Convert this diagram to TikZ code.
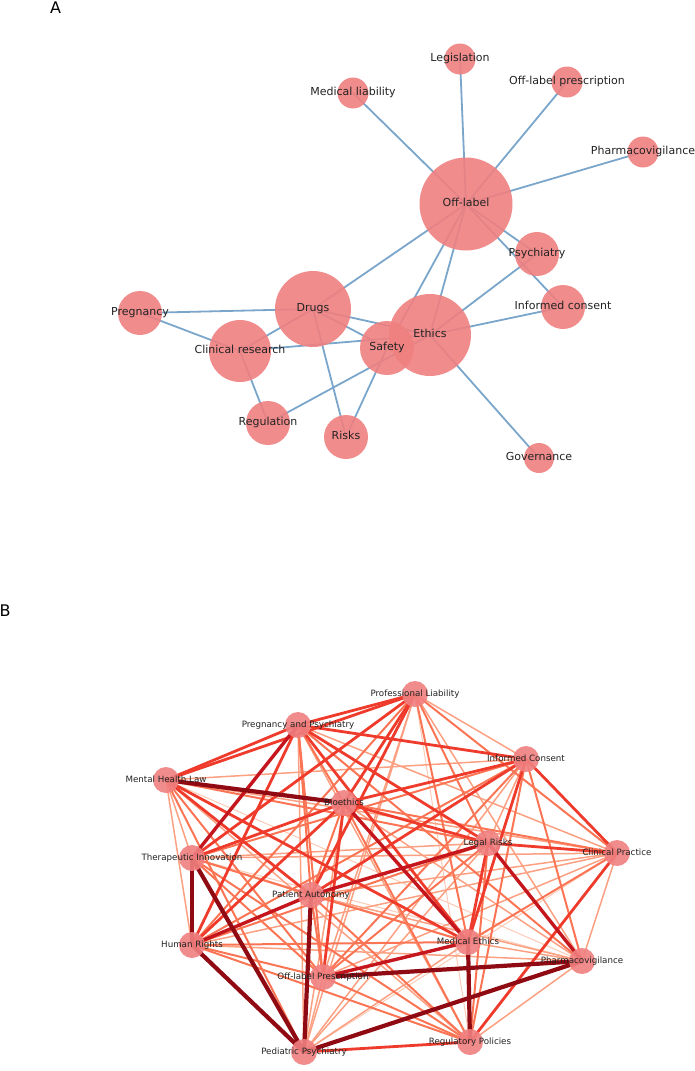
\documentclass[tikz,border=0pt]{standalone}
\usepackage{fontspec}
\setmainfont{DejaVu Sans}
\pgfdeclarelayer{bg}
\pgfsetlayers{bg,main}
\definecolor{nodecol}{HTML}{F08080}
\definecolor{edgeblue}{HTML}{7AA6CB}
\definecolor{txt}{HTML}{222222}
\definecolor{r0}{HTML}{FDCAB5}
\definecolor{r1}{HTML}{FCA082}
\definecolor{r2}{HTML}{FB7555}
\definecolor{r3}{HTML}{EE3B2C}
\definecolor{r4}{HTML}{C4161C}
\definecolor{r5}{HTML}{8F0A12}
\tikzset{
  anode/.style={circle, fill=nodecol, fill opacity=0.9, inner sep=0pt, draw=none},
  alabel/.style={text=txt, inner sep=0pt, font=\fontsize{11bp}{13bp}\selectfont, text height=8bp, text depth=2.5bp},
  aedge/.style={draw=edgeblue, line width=1.8bp},
  bnode/.style={circle, fill=nodecol, fill opacity=0.9, inner sep=0pt, minimum size=26bp, draw=none},
  blabel/.style={text=txt, inner sep=0pt, font=\fontsize{8.7bp}{10bp}\selectfont, text height=6.3bp, text depth=2bp},
  panel/.style={text=black, inner sep=0pt, font=\fontsize{16bp}{18bp}\selectfont},
  wzero/.style={draw=r0, line width=1.0bp},
  wone/.style={draw=r1, line width=1.5bp},
  wtwo/.style={draw=r2, line width=2.0bp},
  wthree/.style={draw=r3, line width=2.8bp},
  wfour/.style={draw=r4, line width=3.4bp},
  wfive/.style={draw=r5, line width=4.2bp},
}
\begin{document}
\begin{tikzpicture}[x=1bp,y=-1bp]
\useasboundingbox (0,0) rectangle (695,1071);
% ---------------- Panel A ----------------
\node[panel] (labA) at (55.7,7.5) {A};
\node[anode, minimum size=31bp] (legis) at (460,59) {};
\node[anode, minimum size=31bp] (medliab) at (353,93) {};
\node[anode, minimum size=31bp] (olpresc) at (567,82) {};
\node[anode, minimum size=31bp] (pharmA) at (643,152) {};
\node[anode, minimum size=93bp] (offlabel) at (466,204) {};
\node[anode, minimum size=44bp] (psych) at (537,254) {};
\node[anode, minimum size=44bp] (informed) at (563,307) {};
\node[anode, minimum size=76bp] (drugs) at (313,309) {};
\node[anode, minimum size=82bp] (ethics) at (430,335) {};
\node[anode, minimum size=44bp] (pregn) at (140,313) {};
\node[anode, minimum size=62bp] (clinres) at (240,351) {};
\node[anode, minimum size=54bp] (safety) at (387,348) {};
\node[anode, minimum size=44bp] (regul) at (268,423) {};
\node[anode, minimum size=44bp] (risks) at (346,437) {};
\node[anode, minimum size=30bp] (govern) at (539,458) {};
\begin{pgfonlayer}{bg}
\foreach \a/\b in {offlabel/legis, offlabel/medliab, offlabel/olpresc, offlabel/pharmA,
  offlabel/psych, offlabel/informed, offlabel/drugs, offlabel/safety, offlabel/ethics,
  ethics/psych, ethics/informed, ethics/govern, drugs/ethics, drugs/safety,
  clinres/ethics, clinres/drugs, pregn/drugs, pregn/clinres, clinres/regul,
  regul/ethics, drugs/risks, risks/safety}
  \draw[aedge] (\a.center) -- (\b.center);
\end{pgfonlayer}
\node[alabel] (legis-l) at (legis) {Legislation};
\node[alabel] (medliab-l) at (medliab) {Medical liability};
\node[alabel] (olpresc-l) at (olpresc) {Off-label prescription};
\node[alabel] (pharmA-l) at (pharmA) {Pharmacovigilance};
\node[alabel] (offlabel-l) at (offlabel) {Off-label};
\node[alabel] (psych-l) at (psych) {Psychiatry};
\node[alabel] (informed-l) at (informed) {Informed consent};
\node[alabel] (drugs-l) at (drugs) {Drugs};
\node[alabel] (ethics-l) at (ethics) {Ethics};
\node[alabel] (pregn-l) at (pregn) {Pregnancy};
\node[alabel] (clinres-l) at (clinres) {Clinical research};
\node[alabel] (safety-l) at (safety) {Safety};
\node[alabel] (regul-l) at (regul) {Regulation};
\node[alabel] (risks-l) at (risks) {Risks};
\node[alabel] (govern-l) at (govern) {Governance};
% ---------------- Panel B ----------------
\node[panel] (labB) at (5,611) {B};
\node[bnode] (PL) at (415,694) {};
\node[bnode] (PP) at (298,725) {};
\node[bnode] (IC) at (526,759) {};
\node[bnode] (MH) at (166,780) {};
\node[bnode] (BE) at (344,803) {};
\node[bnode] (LR) at (488,843) {};
\node[bnode] (CP) at (617,853) {};
\node[bnode] (TI) at (192,858) {};
\node[bnode] (PA) at (311,895) {};
\node[bnode] (HR) at (192,945) {};
\node[bnode] (ME) at (468,942) {};
\node[bnode] (PV) at (582,961) {};
\node[bnode] (OP) at (323,977) {};
\node[bnode] (PD) at (304,1052) {};
\node[bnode] (RP) at (470,1042) {};
\begin{pgfonlayer}{bg}
\foreach \a/\b in {PL/RP, MH/PV, CP/PD, TI/PV}
  \draw[wzero] (\a.center) -- (\b.center);
\foreach \a/\b in {PL/IC, PL/PV, PL/OP, PL/PD, PP/CP, PP/PD, PP/RP, IC/MH, IC/LR, IC/PD,
  MH/CP, MH/TI, MH/HR, MH/RP, BE/PV, BE/PD, LR/TI, LR/PD, CP/TI, CP/PA, CP/HR, CP/PV,
  CP/OP, TI/ME, PA/PV, HR/PV, ME/PV, ME/PD, PV/RP, OP/PD}
  \draw[wone] (\a.center) -- (\b.center);
\foreach \a/\b in {PL/LR, PL/CP, PL/HR, PL/ME, PP/BE, PP/PA, PP/PV, PP/OP, IC/TI, IC/HR,
  IC/PV, IC/OP, IC/RP, MH/LR, MH/OP, MH/PD, BE/CP, BE/PA, BE/RP, LR/HR, LR/OP, LR/RP,
  CP/ME, TI/PA, TI/OP, TI/RP, PA/ME, PA/OP, PA/RP, HR/ME, HR/OP, HR/RP, OP/RP}
  \draw[wtwo] (\a.center) -- (\b.center);
\foreach \a/\b in {PL/PP, PL/MH, PL/BE, PL/TI, PL/PA, PP/IC, PP/MH, PP/LR, PP/HR, PP/ME,
  IC/BE, IC/CP, IC/PA, IC/ME, MH/PA, MH/ME, BE/LR, BE/TI, BE/HR, BE/OP, LR/CP, LR/ME,
  CP/RP, PD/RP}
  \draw[wthree] (\a.center) -- (\b.center);
\foreach \a/\b in {PP/TI, BE/ME, LR/PA, LR/PV, PA/HR, ME/OP}
  \draw[wfour] (\a.center) -- (\b.center);
\foreach \a/\b in {MH/BE, TI/HR, TI/PD, PA/PD, HR/PD, ME/RP, PV/OP, PV/PD}
  \draw[wfive] (\a.center) -- (\b.center);
\end{pgfonlayer}
\node[blabel] (PL-l) at (PL) {Professional Liability};
\node[blabel] (PP-l) at (PP) {Pregnancy and Psychiatry};
\node[blabel] (IC-l) at (IC) {Informed Consent};
\node[blabel] (MH-l) at (MH) {Mental Health Law};
\node[blabel] (BE-l) at (BE) {Bioethics};
\node[blabel] (LR-l) at (LR) {Legal Risks};
\node[blabel] (CP-l) at (CP) {Clinical Practice};
\node[blabel] (TI-l) at (TI) {Therapeutic Innovation};
\node[blabel] (PA-l) at (PA) {Patient Autonomy};
\node[blabel] (HR-l) at (HR) {Human Rights};
\node[blabel] (ME-l) at (ME) {Medical Ethics};
\node[blabel] (PV-l) at (PV) {Pharmacovigilance};
\node[blabel] (OP-l) at (OP) {Off-label Prescription};
\node[blabel] (PD-l) at (PD) {Pediatric Psychiatry};
\node[blabel] (RP-l) at (RP) {Regulatory Policies};
\end{tikzpicture}
\end{document}
